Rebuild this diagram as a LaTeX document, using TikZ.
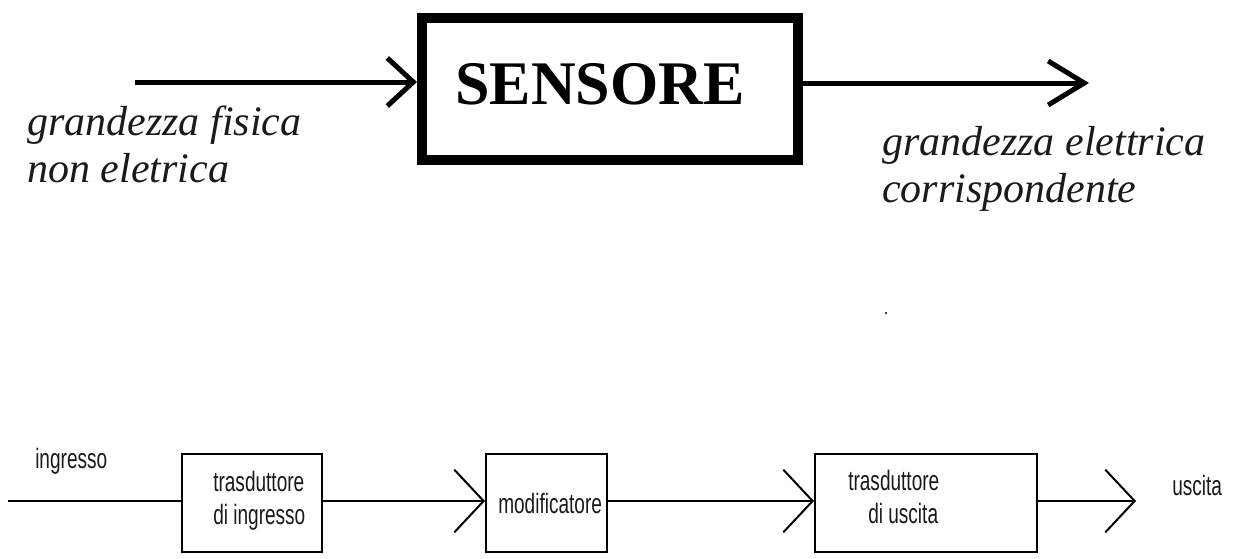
\documentclass[tikz,border=0pt]{standalone}
\usepackage{fontspec}
\setmainfont{Liberation Serif}
\newfontfamily\bsans[FakeStretch=0.68]{Liberation Sans}
\usetikzlibrary{arrows.meta}
\definecolor{ink}{HTML}{1A1A1A}
\begin{document}
\begin{tikzpicture}[x=0.75pt,y=-0.75pt,
  bigbox/.style={draw, line width=7.5pt, inner sep=0, minimum width=282pt, minimum height=106.5pt},
  smallbox/.style={draw, line width=1.5pt, inner sep=0, minimum height=73.5pt},
  bigline/.style={line width=3.75pt},
  smline/.style={line width=1.5pt},
  itlabel/.style={anchor=base west, inner sep=0, text=ink, font=\itshape\fontsize{31.5}{36}\selectfont},
  snlabel/.style={anchor=base west, inner sep=0, text=ink, font=\bsans\fontsize{21}{24}\selectfont},
  chevin/.style={-{Straight Barb[length=19.5pt,width=36pt]}},
  chevout/.style={-{Straight Barb[length=27pt,width=33pt]}},
  chevsm/.style={-{Straight Barb[length=22pt,width=47pt]}}
]
\useasboundingbox (0,0) rectangle (1248,558);

% ---------- top: sensor ----------
\node[bigbox] (sens) at (610,89) {};
\node[anchor=base, inner sep=0, font=\bfseries\fontsize{46.5}{50}\selectfont] (senst) at (600,104) {SENSORE};

\coordinate (inA) at (135,82);
\coordinate (outB) at (1089,83);
\draw[bigline,chevin] (inA) -- (inA -| sens.west);
\draw[bigline,chevout] (sens.east |- outB) -- (outB);

\node[itlabel] (gf1) at (27,135) {grandezza fisica};
\node[itlabel] (gf2) at (27,182) {non eletrica};
\node[itlabel] (ge1) at (882,155) {grandezza elettrica};
\node[itlabel] (ge2) at (882,202) {corrispondente};

\node[circle, fill=black, inner sep=0, minimum size=1.8pt] (dot) at (886,313) {};

% ---------- bottom: chain ----------
\node[smallbox, minimum width=105pt] (b1) at (252,503) {};
\node[smallbox, minimum width=90.75pt] (b2) at (546.5,503) {};
\node[smallbox, minimum width=166.5pt] (b3) at (926,503) {};

\coordinate (inS) at (8,501);
\coordinate (outS) at (1136,501);
\draw[smline] (inS) -- (inS -| b1.west);
\draw[smline,chevsm] (b1.east |- inS) -- (b2.west |- inS);
\draw[smline,chevsm] (b2.east |- inS) -- (b3.west |- inS);
\draw[smline,chevsm] (b3.east |- inS) -- (outS);

\node[snlabel] (ing) at (35,468) {ingresso};
\node[snlabel] (t1a) at (213,491) {trasduttore};
\node[snlabel] (t1b) at (213,524) {di ingresso};
\node[snlabel] (mod) at (498,513) {modificatore};
\node[snlabel] (t3a) at (848,490) {trasduttore};
\node[snlabel] (t3b) at (868,523) {di uscita};
\node[snlabel] (usc) at (1172,495) {uscita};
\end{tikzpicture}
\end{document}
